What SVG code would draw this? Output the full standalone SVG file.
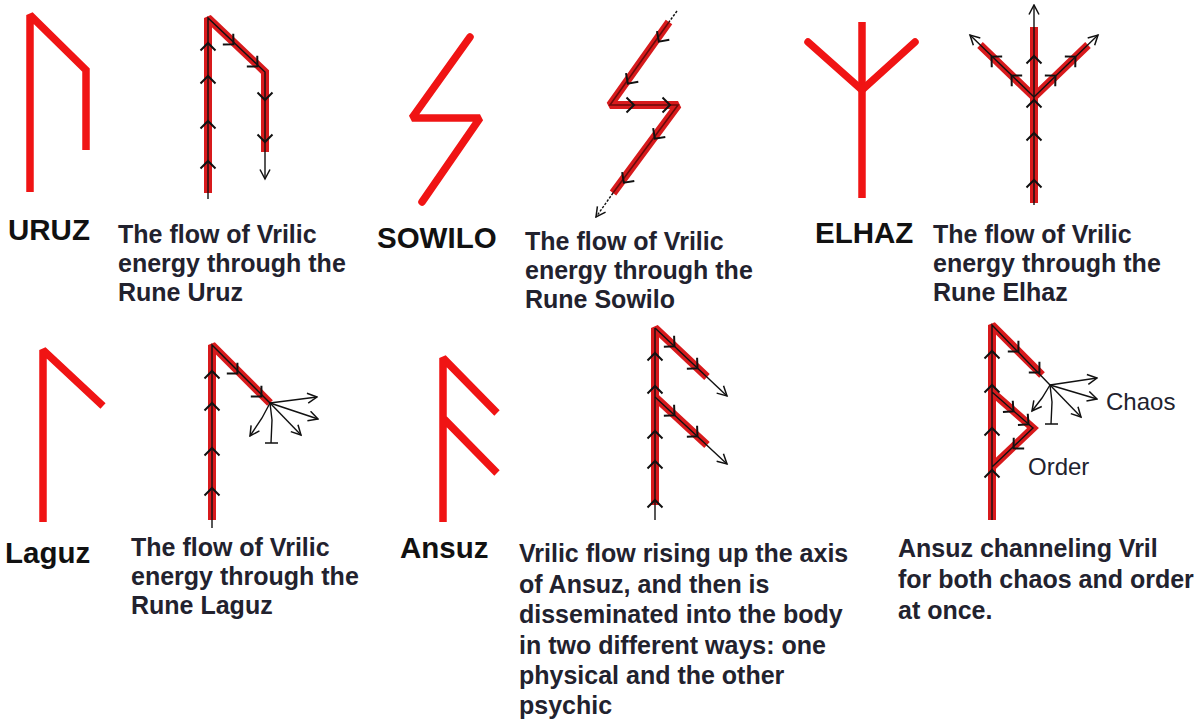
<svg xmlns="http://www.w3.org/2000/svg" width="1198" height="721" viewBox="0 0 1198 721">
<style>
.rune{fill:none;stroke:#f01414;stroke-width:7.5;stroke-linejoin:miter;stroke-miterlimit:2;stroke-linecap:butt}
.flow{fill:none;stroke:#d81a1c;stroke-width:8;stroke-linejoin:miter;stroke-miterlimit:2}
.core{fill:none;stroke:#6a0a0a;stroke-width:1.6}
.blk{fill:none;stroke:#111;stroke-width:1.4}
.arr{fill:none;stroke:#111;stroke-width:1.4;marker-end:url(#ah)}
.lbl{font-family:"Liberation Sans",Arial,sans-serif;font-weight:bold;font-size:29.5px;fill:#111}
.cap{font-family:"Liberation Sans",Arial,sans-serif;font-weight:bold;font-size:25px;fill:#22222e}
.note{font-family:"Liberation Sans",Arial,sans-serif;font-size:24px;fill:#22222e}
</style>
<defs>
<marker id="ah" viewBox="0 0 12 12" refX="10.5" refY="6" markerWidth="12" markerHeight="12" markerUnits="userSpaceOnUse" orient="auto">
<path d="M1,1 L10.5,6 L1,11" fill="none" stroke="#111" stroke-width="1.5"/>
</marker>
<path id="ch" d="M-7.5,5.5 L0,-2 L7.5,5.5" fill="none" stroke="#111" stroke-width="2"/>
</defs>
<rect width="1198" height="721" fill="#fff"/>

<g id="uruz">
<path class="rune" d="M30,192 V15 L86,70 V150"/>
<text class="lbl" x="8" y="240">URUZ</text>
</g>

<g id="uruz-flow">
<path class="flow" d="M208,193 V18 L265,72 V152"/>
<path class="arr" d="M208,199 V18 L265,72 V179"/>
<use href="#ch" transform="translate(208,45)"/>
<use href="#ch" transform="translate(208,78)"/>
<use href="#ch" transform="translate(208,123)"/>
<use href="#ch" transform="translate(208,163)"/>
<use href="#ch" transform="translate(232,43) rotate(134)"/>
<use href="#ch" transform="translate(256,65) rotate(134)"/>
<use href="#ch" transform="translate(265,98) rotate(180)"/>
<use href="#ch" transform="translate(265,140) rotate(180)"/>
<text class="cap" x="118" y="243">The flow of Vrilic</text>
<text class="cap" x="118" y="272">energy through the</text>
<text class="cap" x="118" y="301">Rune Uruz</text>
</g>

<g id="sowilo">
<path class="rune" style="stroke-linecap:round" d="M470,37 L412,118 L480,118 L422,202"/>
<text class="lbl" x="377" y="248">SOWILO</text>
</g>

<g id="sowilo-flow">
<path class="flow" d="M669,22 L610,105 L678,105 L613,193"/>
<path class="core" d="M669,22 L610,105 L678,105 L613,193"/>
<path class="blk" stroke-dasharray="2.5 1.5" d="M677,11 L669,22"/>
<path class="arr" stroke-dasharray="2.5 1.5" d="M613,193 L596,217"/>
<use href="#ch" transform="translate(660,40) rotate(215)"/>
<use href="#ch" transform="translate(629,82) rotate(215)"/>
<use href="#ch" transform="translate(632,105) rotate(90)"/>
<use href="#ch" transform="translate(668,105) rotate(90)"/>
<use href="#ch" transform="translate(656,137) rotate(216)"/>
<use href="#ch" transform="translate(625,181) rotate(216)"/>
<text class="cap" x="525" y="250">The flow of Vrilic</text>
<text class="cap" x="525" y="279">energy through the</text>
<text class="cap" x="525" y="308">Rune Sowilo</text>
</g>

<g id="elhaz">
<path class="rune" d="M862,22 V198"/>
<path class="rune" style="stroke-linecap:round" d="M808,42 L862,90 L915,42"/>
<text class="lbl" x="815" y="243">ELHAZ</text>
</g>

<g id="elhaz-flow">
<path class="flow" d="M1034,203 V27"/>
<path class="flow" d="M980,45 L1034,97 L1088,45"/>
<path class="arr" d="M1034,205 V5"/>
<path class="arr" d="M1034,97 L970,35"/>
<path class="arr" d="M1034,97 L1098,35"/>
<use href="#ch" transform="translate(1034,58)"/>
<use href="#ch" transform="translate(1034,102)"/>
<use href="#ch" transform="translate(1034,135)"/>
<use href="#ch" transform="translate(1034,182)"/>
<use href="#ch" transform="translate(993,58) rotate(314)"/>
<use href="#ch" transform="translate(1013,77) rotate(314)"/>
<use href="#ch" transform="translate(1054,77) rotate(46)"/>
<use href="#ch" transform="translate(1074,58) rotate(46)"/>
<text class="cap" x="933" y="243">The flow of Vrilic</text>
<text class="cap" x="933" y="272">energy through the</text>
<text class="cap" x="933" y="301">Rune Elhaz</text>
</g>

<g id="laguz">
<path class="rune" d="M43,522 V350 L103,406"/>
<text class="lbl" x="5" y="563">Laguz</text>
</g>

<g id="laguz-flow">
<path class="flow" d="M212,520 V345 L270,403"/>
<path class="blk" d="M212,528 V345 L270,403"/>
<use href="#ch" transform="translate(212,373)"/>
<use href="#ch" transform="translate(212,405)"/>
<use href="#ch" transform="translate(212,450)"/>
<use href="#ch" transform="translate(212,490)"/>
<use href="#ch" transform="translate(236,372) rotate(135)"/>
<use href="#ch" transform="translate(260,395) rotate(135)"/>
<path class="arr" d="M270,403 L317,397"/>
<path class="arr" d="M270,403 L318,419"/>
<path class="arr" d="M270,403 L301,435"/>
<path class="blk" d="M270,403 L272,420 L271,443 M265,443 H278"/>
<path class="arr" d="M270,403 L262,418 L250,436"/>
<text class="cap" x="131" y="556">The flow of Vrilic</text>
<text class="cap" x="131" y="585">energy through the</text>
<text class="cap" x="131" y="614">Rune Laguz</text>
</g>

<g id="ansuz">
<path class="rune" d="M443,522 V358 L497,413 M443,418 L497,473"/>
<text class="lbl" x="400" y="558">Ansuz</text>
</g>

<g id="ansuz-flow">
<path class="flow" d="M655,505 V328 L707,377 M655,397 L707,445"/>
<path class="blk" d="M655,520 V328"/>
<path class="arr" d="M655,328 L727,396"/>
<path class="arr" d="M655,397 L727,464"/>
<use href="#ch" transform="translate(655,355)"/>
<use href="#ch" transform="translate(655,388)"/>
<use href="#ch" transform="translate(655,433)"/>
<use href="#ch" transform="translate(655,463)"/>
<use href="#ch" transform="translate(655,502)"/>
<use href="#ch" transform="translate(673,345) rotate(133)"/>
<use href="#ch" transform="translate(696,367) rotate(133)"/>
<use href="#ch" transform="translate(673,414) rotate(133)"/>
<use href="#ch" transform="translate(696,435) rotate(133)"/>
<text class="cap" x="519" y="562">Vrilic flow rising up the axis</text>
<text class="cap" x="519" y="593">of Ansuz, and then is</text>
<text class="cap" x="519" y="623">disseminated into the body</text>
<text class="cap" x="519" y="654">in two different ways: one</text>
<text class="cap" x="519" y="684">physical and the other</text>
<text class="cap" x="519" y="714">psychic</text>
</g>

<g id="ansuz-chaos-order">
<path class="flow" d="M992,520 V325 L1042,375 M992,392 L1033,428 L992,467"/>
<path class="blk" d="M992,520 V325 L1050,385 M992,392 L1033,428 L992,467"/>
<use href="#ch" transform="translate(992,353)"/>
<use href="#ch" transform="translate(992,387)"/>
<use href="#ch" transform="translate(992,430)"/>
<use href="#ch" transform="translate(992,472)"/>
<use href="#ch" transform="translate(1017,350) rotate(135)"/>
<use href="#ch" transform="translate(1038,371) rotate(135)"/>
<use href="#ch" transform="translate(1012,410) rotate(131)"/>
<use href="#ch" transform="translate(1027,423) rotate(131)"/>
<use href="#ch" transform="translate(1015,447) rotate(226)"/>
<path class="arr" d="M1050,385 L1097,378"/>
<path class="arr" d="M1050,385 L1097,399"/>
<path class="arr" d="M1050,385 L1081,417"/>
<path class="blk" d="M1050,385 L1052,402 L1051,424 M1045,424 H1058"/>
<path class="arr" d="M1050,385 L1042,398 L1032,411"/>
<text class="note" x="1106" y="410">Chaos</text>
<text class="note" x="1028" y="475">Order</text>
<text class="cap" x="898" y="557">Ansuz channeling Vril</text>
<text class="cap" x="898" y="588">for both chaos and order</text>
<text class="cap" x="898" y="619">at once.</text>
</g>
</svg>
